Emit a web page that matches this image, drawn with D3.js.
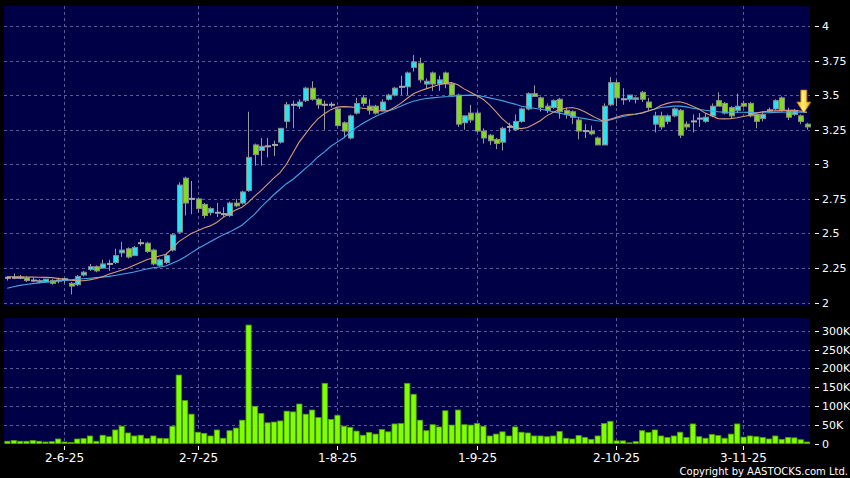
<!DOCTYPE html>
<html><head><meta charset="utf-8">
<script src="https://cdn.jsdelivr.net/npm/d3@7"></script>
<style>html,body{margin:0;padding:0;background:#000;}svg{display:block;}</style>
</head><body><svg id="c" width="850" height="478"></svg>
<script>
const opens = [2.18,2.18,2.18,2.18,2.16,2.15,2.15,2.16,2.16,2.17, 2.14,2.13,2.20,2.24,2.26,2.25,2.28,2.29,2.36,2.39, 2.34,2.43,2.43,2.38,2.27,2.29,2.38,2.51,2.90,2.75, 2.75,2.71,2.65,2.65,2.64,2.63,2.72,2.72,2.81,3.14, 3.10,3.13,3.14,3.16,3.31,3.43,3.42,3.46,3.55,3.47, 3.43,3.43,3.40,3.30,3.19,3.37,3.48,3.42,3.42,3.39, 3.47,3.50,3.56,3.56,3.70,3.73,3.58,3.66,3.58,3.66, 3.58,3.50,3.30,3.37,3.37,3.24,3.21,3.18,3.16,3.27, 3.25,3.31,3.40,3.51,3.48,3.42,3.41,3.47,3.39,3.38, 3.32,3.24,3.24,3.19,3.14,3.43,3.59,3.47,3.47,3.47, 3.52,3.45,3.29,3.35,3.31,3.35,3.39,3.29,3.31,3.33, 3.31,3.35,3.46,3.44,3.41,3.39,3.44,3.44,3.36,3.33, 3.39,3.40,3.48,3.39,3.36,3.35,3.29];
const highs = [2.19,2.21,2.20,2.19,2.18,2.17,2.17,2.17,2.18,2.18, 2.15,2.20,2.23,2.28,2.27,2.31,2.31,2.39,2.44,2.40, 2.41,2.46,2.44,2.39,2.32,2.36,2.50,2.87,2.91,2.88, 2.76,2.72,2.69,2.72,2.69,2.73,2.75,2.81,3.38,3.15, 3.19,3.19,3.17,3.26,3.45,3.46,3.47,3.56,3.60,3.48, 3.46,3.45,3.41,3.31,3.36,3.48,3.50,3.47,3.43,3.47, 3.51,3.56,3.64,3.67,3.79,3.77,3.62,3.67,3.64,3.67, 3.59,3.51,3.35,3.43,3.39,3.26,3.22,3.19,3.27,3.30, 3.36,3.41,3.52,3.57,3.49,3.44,3.47,3.48,3.41,3.39, 3.34,3.29,3.28,3.20,3.44,3.63,3.61,3.55,3.50,3.49, 3.53,3.48,3.38,3.38,3.36,3.41,3.40,3.31,3.36,3.37, 3.37,3.44,3.52,3.45,3.42,3.51,3.46,3.45,3.37,3.38, 3.41,3.47,3.49,3.41,3.40,3.36,3.30];
const lows = [2.16,2.17,2.17,2.15,2.15,2.14,2.15,2.13,2.14,2.14, 2.06,2.12,2.19,2.23,2.22,2.25,2.23,2.28,2.33,2.32, 2.34,2.41,2.36,2.27,2.26,2.28,2.37,2.50,2.63,2.64, 2.65,2.61,2.63,2.62,2.62,2.62,2.69,2.71,2.80,2.99, 2.99,3.05,3.06,3.15,3.26,3.26,3.40,3.45,3.46,3.40, 3.25,3.41,3.27,3.19,3.18,3.36,3.42,3.36,3.36,3.39, 3.46,3.49,3.50,3.50,3.67,3.59,3.55,3.53,3.53,3.55, 3.49,3.27,3.25,3.30,3.23,3.15,3.14,3.11,3.10,3.23, 3.24,3.30,3.39,3.49,3.38,3.37,3.40,3.33,3.33,3.29, 3.18,3.19,3.21,3.14,3.14,3.42,3.42,3.43,3.45,3.44, 3.45,3.39,3.23,3.25,3.29,3.34,3.19,3.25,3.23,3.27, 3.30,3.34,3.42,3.36,3.33,3.37,3.41,3.34,3.26,3.31, 3.37,3.39,3.38,3.32,3.35,3.29,3.25];
const closes = [2.18,2.18,2.18,2.16,2.16,2.16,2.17,2.14,2.16,2.17, 2.12,2.19,2.22,2.26,2.23,2.28,2.28,2.34,2.38,2.33, 2.40,2.43,2.37,2.28,2.31,2.34,2.49,2.85,2.72,2.75, 2.68,2.63,2.68,2.65,2.64,2.72,2.70,2.80,3.05,3.07, 3.13,3.13,3.14,3.26,3.43,3.43,3.45,3.55,3.47,3.43, 3.43,3.43,3.28,3.24,3.35,3.44,3.44,3.39,3.37,3.45, 3.50,3.55,3.56,3.66,3.74,3.61,3.60,3.58,3.61,3.58, 3.50,3.29,3.35,3.32,3.24,3.19,3.17,3.15,3.26,3.27, 3.31,3.40,3.51,3.49,3.41,3.39,3.46,3.38,3.36,3.34, 3.24,3.24,3.22,3.14,3.42,3.59,3.48,3.47,3.50,3.48, 3.47,3.41,3.35,3.27,3.35,3.40,3.21,3.27,3.31,3.33, 3.34,3.42,3.42,3.37,3.35,3.42,3.42,3.35,3.31,3.36, 3.39,3.46,3.39,3.34,3.39,3.31,3.27];
const volumesK = [6,8,6,6,8,6,4,5,12,4, 3,12,13,20,6,22,18,36,46,28, 20,22,13,20,14,13,46,182,114,78, 30,27,20,36,14,34,41,62,315,99, 80,55,57,60,86,84,105,78,89,69, 160,64,75,46,43,33,22,29,25,37, 31,52,53,160,131,62,34,50,44,87, 49,89,50,49,53,46,20,25,31,20, 44,30,28,20,20,18,20,32,14,12, 21,16,11,20,53,59,7,7,2,5, 34,29,36,20,16,20,30,16,52,18, 14,24,21,14,25,52,17,20,18,16, 12,20,11,16,15,10,4];
const maShort = [2.188,2.188,2.187,2.186,2.185,2.184,2.183,2.181,2.176,2.17, 2.162,2.159,2.159,2.165,2.175,2.188,2.205,2.22,2.235,2.25, 2.27,2.29,2.31,2.325,2.337,2.35,2.39,2.44,2.47,2.50, 2.52,2.54,2.555,2.58,2.615,2.645,2.67,2.69,2.725,2.77, 2.81,2.855,2.90,2.94,3.00,3.08,3.16,3.22,3.28,3.33, 3.365,3.395,3.413,3.417,3.415,3.41,3.405,3.40,3.39,3.385, 3.386,3.41,3.44,3.475,3.51,3.53,3.545,3.56,3.575,3.585, 3.59,3.575,3.545,3.52,3.495,3.47,3.43,3.38,3.33,3.29, 3.265,3.258,3.266,3.29,3.315,3.35,3.375,3.395,3.405,3.41, 3.40,3.38,3.355,3.33,3.31,3.325,3.34,3.355,3.36,3.363, 3.37,3.385,3.40,3.425,3.44,3.45,3.452,3.44,3.42,3.40, 3.37,3.35,3.33,3.328,3.33,3.336,3.345,3.355,3.37,3.38, 3.383,3.386,3.388,3.39,3.39,3.385,3.375];
const maLong = [2.105,2.115,2.125,2.132,2.138,2.143,2.148,2.152,2.157,2.161, 2.165,2.17,2.173,2.177,2.181,2.185,2.19,2.197,2.205,2.213, 2.222,2.233,2.243,2.252,2.258,2.265,2.285,2.305,2.33,2.36, 2.39,2.415,2.44,2.465,2.49,2.51,2.535,2.56,2.60,2.64, 2.69,2.735,2.78,2.82,2.86,2.89,2.93,2.97,3.01,3.055, 3.09,3.13,3.16,3.19,3.23,3.265,3.295,3.32,3.345,3.365, 3.385,3.40,3.42,3.44,3.455,3.467,3.475,3.48,3.485,3.488, 3.49,3.495,3.498,3.50,3.498,3.49,3.48,3.47,3.46,3.447, 3.435,3.42,3.413,3.405,3.398,3.39,3.38,3.37,3.36,3.348, 3.338,3.33,3.322,3.315,3.31,3.32,3.333,3.345,3.355,3.362, 3.372,3.385,3.398,3.41,3.415,3.42,3.42,3.415,3.405,3.398, 3.39,3.385,3.38,3.377,3.376,3.376,3.376,3.375,3.373,3.372, 3.373,3.375,3.377,3.378,3.378,3.377,3.375];
const tickIndex = [9, 30, 52, 74, 96, 116];
const tickLabels = ["2-6-25", "2-7-25", "1-8-25", "1-9-25", "2-10-25", "3-11-25"];
const priceTicks = [2, 2.25, 2.5, 2.75, 3, 3.25, 3.5, 3.75, 4];
const volumeTicks = [0, 50, 100, 150, 200, 250, 300];

const N = closes.length;
const svg = d3.select("#c");
const FONT = "DejaVu Sans, Verdana, sans-serif";
const L = 4, R = 810;
const pTop = 6, pBot = 306, vTop = 318, vBot = 444;

svg.append("rect").attr("width", 850).attr("height", 478).attr("fill", "#000");

const x = d3.scaleBand().domain(d3.range(N)).range([L, R]).paddingInner(0.12).paddingOuter(0.06);
const xc = i => x(i) + x.bandwidth() / 2;
const y = d3.scaleLinear().domain([2, 4]).range([302.7, 25.9]);
const yv = d3.scaleLinear().domain([0, 300]).range([443.5, 330.7]);

svg.append("rect").attr("x", L).attr("y", pTop).attr("width", R - L).attr("height", pBot - pTop).attr("fill", "#000046");
svg.append("rect").attr("x", L).attr("y", vTop).attr("width", R - L).attr("height", vBot - vTop).attr("fill", "#000046");

const gridColor = "#5a5a96";
const grid = svg.append("g").attr("stroke", gridColor).attr("stroke-width", 1).attr("stroke-dasharray", "3,3").attr("shape-rendering", "crispEdges");
priceTicks.forEach(t => {
  grid.append("line").attr("x1", L).attr("x2", R).attr("y1", Math.round(y(t)) + 0.5).attr("y2", Math.round(y(t)) + 0.5);
});
volumeTicks.filter(t => t > 0).forEach(t => {
  grid.append("line").attr("x1", L).attr("x2", R).attr("y1", Math.round(yv(t)) + 0.5).attr("y2", Math.round(yv(t)) + 0.5);
});
tickIndex.forEach(i => {
  const gx = Math.round(xc(i)) + 0.5;
  grid.append("line").attr("x1", gx).attr("x2", gx).attr("y1", pTop).attr("y2", pBot);
  grid.append("line").attr("x1", gx).attr("x2", gx).attr("y1", vTop).attr("y2", vBot);
});

// candles
const cg = svg.append("g");
d3.range(N).forEach(i => {
  const o = opens[i], c = closes[i], h = highs[i], l = lows[i];
  const cx = Math.round(xc(i)) + 0.5;
  cg.append("line").attr("x1", cx).attr("x2", cx).attr("y1", y(h)).attr("y2", y(l))
    .attr("stroke", "#9a9a9a").attr("stroke-width", 1);
  const bw = Math.round(x.bandwidth());
  const bx = Math.round(cx - bw / 2);
  if (o === c) {
    cg.append("rect").attr("x", bx).attr("y", y(o) - 1).attr("width", bw).attr("height", 2)
      .attr("fill", "#a8a8a8");
  } else {
    const top = y(Math.max(o, c)), bot = y(Math.min(o, c));
    cg.append("rect").attr("x", bx + 0.5).attr("y", top).attr("width", bw - 1).attr("height", Math.max(1.5, bot - top))
      .attr("fill", c > o ? "#27e4f0" : "#7fdc1e").attr("stroke", "#8a8a8a").attr("stroke-width", 1);
  }
});

// moving averages
const lineGen = arr => d3.line().x((d, i) => xc(i)).y(d => y(d))(arr);
svg.append("path").attr("d", lineGen(maLong)).attr("fill", "none").attr("stroke", "#46a6e6").attr("stroke-width", 1.1);
svg.append("path").attr("d", lineGen(maShort)).attr("fill", "none").attr("stroke", "#d99a76").attr("stroke-width", 1.1);

// volume
const xv = d3.scaleBand().domain(d3.range(N)).range([L, R]).paddingInner(0.1).paddingOuter(0.05);
const vg = svg.append("g");
volumesK.forEach((v, i) => {
  vg.append("rect").attr("x", xv(i) + 0.5).attr("y", yv(v)).attr("width", xv.bandwidth() - 0.5).attr("height", yv(0) - yv(v))
    .attr("fill", "#80ff00").attr("stroke", "#4fa000").attr("stroke-width", 0.8);
});

// arrow marker over last candle
const ax = xc(N - 1) - 3, ay = y(3.37);
const defs = svg.append("defs");
const grad = defs.append("linearGradient").attr("id", "ag").attr("x1", 0).attr("x2", 1).attr("y1", 0).attr("y2", 0);
grad.append("stop").attr("offset", "0%").attr("stop-color", "#ffb300");
grad.append("stop").attr("offset", "45%").attr("stop-color", "#fff176");
grad.append("stop").attr("offset", "100%").attr("stop-color", "#f0a000");
svg.append("path")
  .attr("d", `M${ax - 3},${ay - 23} L${ax + 3},${ay - 23} L${ax + 3},${ay - 11} L${ax + 7},${ay - 11} L${ax},${ay} L${ax - 7},${ay - 11} L${ax - 3},${ay - 11} Z`)
  .attr("fill", "url(#ag)").attr("stroke", "#c07a00").attr("stroke-width", 0.8);

// right axis labels
const ax1 = svg.append("g").attr("font-family", FONT).attr("font-size", 11).attr("fill", "#fff");
priceTicks.forEach(t => {
  const yy = Math.round(y(t)) + 0.5;
  svg.append("line").attr("x1", 815).attr("x2", 819).attr("y1", yy).attr("y2", yy).attr("stroke", "#fff").attr("stroke-width", 1);
  ax1.append("text").attr("x", 822).attr("y", yy).attr("dy", "0.36em").text(d3.format("~g")(t));
});
volumeTicks.forEach(t => {
  const yy = Math.round(yv(t)) + 0.5;
  svg.append("line").attr("x1", 815).attr("x2", 819).attr("y1", yy).attr("y2", yy).attr("stroke", "#fff").attr("stroke-width", 1);
  ax1.append("text").attr("x", 822).attr("y", yy).attr("dy", "0.36em").text(t === 0 ? "0" : t + "K");
});

// bottom axis
const bx = svg.append("g").attr("font-family", FONT).attr("font-size", 12).attr("fill", "#fff").attr("text-anchor", "middle");
tickIndex.forEach((i, k) => {
  const tx = Math.round(xc(i)) + 0.5;
  svg.append("line").attr("x1", tx).attr("x2", tx).attr("y1", 446).attr("y2", 450).attr("stroke", "#fff").attr("stroke-width", 1);
  bx.append("text").attr("x", tx).attr("y", 462).text(tickLabels[k]);
});

svg.append("text").attr("x", 848).attr("y", 475).attr("text-anchor", "end")
  .attr("font-family", FONT).attr("font-size", 10).attr("fill", "#fff")
  .text("Copyright by AASTOCKS.com Ltd.");
</script></body></html>
